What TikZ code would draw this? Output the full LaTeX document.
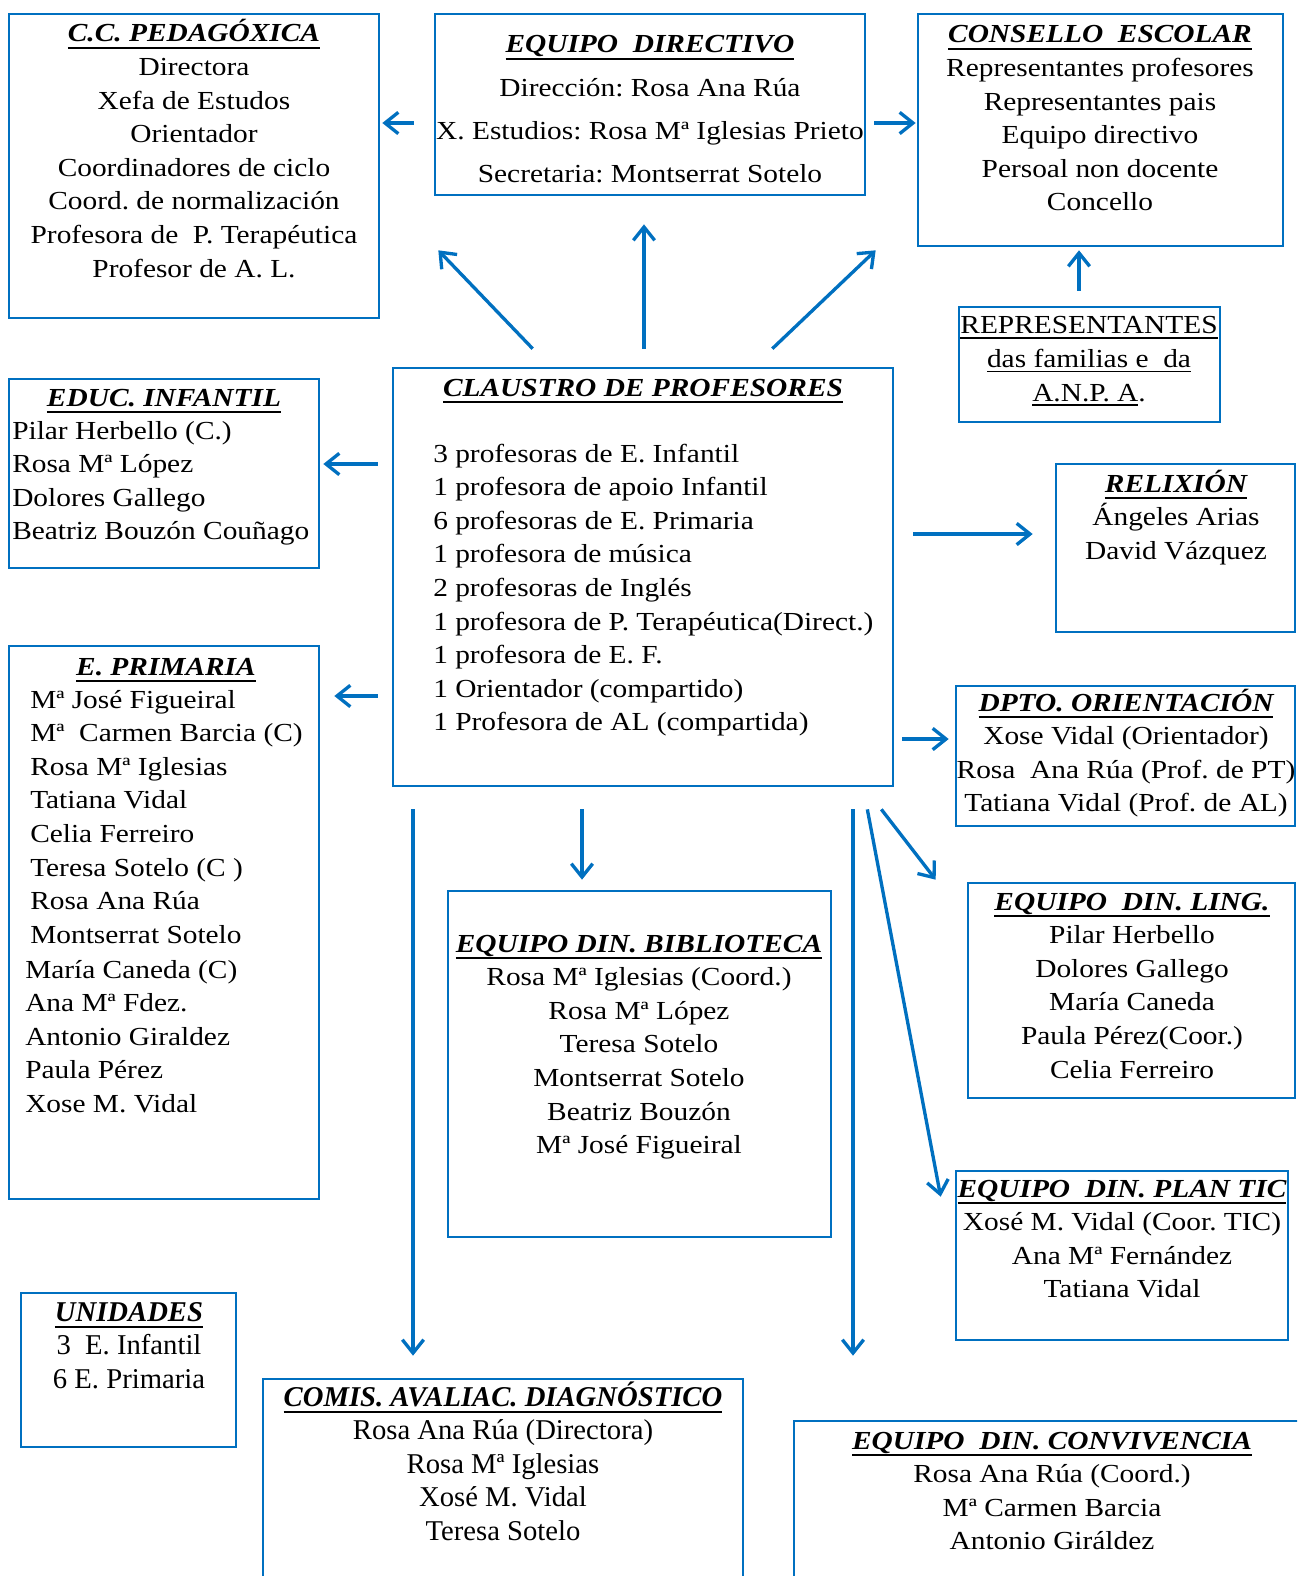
\documentclass[tikz,border=0pt]{standalone}
\usepackage{fontspec}
\setmainfont[FakeStretch=1.13]{Liberation Serif}
\newfontfamily\condfont{Liberation Serif}
\usetikzlibrary{arrows.meta,calc,fit}
\definecolor{boxblue}{RGB}{0,112,192}
\frenchspacing
\newcommand\ttl[1]{\setbox0=\hbox{\bfseries\itshape #1}\rlap{\vrule width\wd0 height -3.6pt depth 5.4pt}\box0}
\newcommand\ulthin[1]{\setbox0=\hbox{#1}\rlap{\vrule width\wd0 height -2.2pt depth 3.4pt}\box0}
\newcommand\ctab[1]{\begin{tabular}[t]{@{}c@{}}#1\end{tabular}}
\newcommand\ltab[1]{\begin{tabular}[t]{@{}l@{}}#1\end{tabular}}
\tikzset{
  box/.style={draw=boxblue, line width=2pt, inner sep=0pt, rectangle},
  arr/.style={draw=boxblue, line width=2.5pt, -{Straight Barb[length=10pt,width=16pt]}},
  txt/.style={inner sep=0pt, font=\frenchspacing\fontsize{19.5}{25.2}\selectfont},
  ctxt/.style={inner sep=0pt, font=\frenchspacing\condfont\fontsize{21.5}{25.2}\selectfont},
}
\begin{document}
\begin{tikzpicture}[x=0.75pt,y=-0.75pt]
\useasboundingbox (0,0) rectangle (1297,1576);
\fill[white] (0,0) rectangle (1297,1576);
\clip (0,0) rectangle (1297,1576);

% boxes
\node[box, fit={(9,14) (379,318)}] (ped) {};
\node[box, fit={(435,14) (865,195)}] (ed) {};
\node[box, fit={(918,14) (1283,246)}] (cons) {};
\node[box, fit={(959,307) (1220,422)}] (rep) {};
\node[box, fit={(393,368) (893,786)}] (cl) {};
\node[box, fit={(9,379) (319,568)}] (inf) {};
\node[box, fit={(1056,464) (1295,632)}] (rel) {};
\node[box, fit={(9,646) (319,1199)}] (pri) {};
\node[box, fit={(956,686) (1295,826)}] (dpto) {};
\node[box, fit={(448,891) (831,1237)}] (bib) {};
\node[box, fit={(968,883) (1295,1098)}] (ling) {};
\node[box, fit={(956,1171) (1288,1340)}] (tic) {};
\node[box, fit={(21,1293) (236,1447)}] (uni) {};
\node[box, fit={(263,1379) (743,1600)}] (com) {};
\node[box, fit={(794,1421) (1310,1600)}] (conv) {};

% texts
\node[txt, anchor=base] (tped) at (194,42) {\ctab{\ttl{C.C. PEDAGÓXICA}\\ Directora\\ Xefa de Estudos\\ Orientador\\ Coordinadores de ciclo\\ Coord. de normalización\\ Profesora de\ \ P. Terapéutica\\ Profesor de A. L.}};
\node[txt, anchor=base, font=\frenchspacing\fontsize{19.5}{32.5}\selectfont] (ted) at (650,53) {\ctab{\ttl{EQUIPO\ \ DIRECTIVO}\\ Dirección: Rosa Ana Rúa\\ X. Estudios: Rosa Mª Iglesias Prieto\\ Secretaria: Montserrat Sotelo}};
\node[txt, anchor=base] (tcons) at (1100,43) {\ctab{\ttl{CONSELLO\ \ ESCOLAR}\\ Representantes profesores\\ Representantes pais\\ Equipo directivo\\ Persoal non docente\\ Concello}};
\node[txt, anchor=base] (trep) at (1089,334) {\ctab{\ulthin{REPRESENTANTES}\\ \ulthin{das familias e\ \ da}\\ \ulthin{A.N.P. A}.}};
\node[txt, anchor=base] (tclh) at (643,396) {\ttl{CLAUSTRO DE PROFESORES}};
\node[txt, anchor=base west] (tcl) at (433,462) {\ltab{3 profesoras de E. Infantil\\ 1 profesora de apoio Infantil\\ 6 profesoras de E. Primaria\\ 1 profesora de música\\ 2 profesoras de Inglés\\ 1 profesora de P. Terapéutica(Direct.)\\ 1 profesora de E. F.\\ 1 Orientador (compartido)\\ 1 Profesora de AL (compartida)}};
\node[txt, anchor=base] (tinfh) at (164,406) {\ttl{EDUC. INFANTIL}};
\node[txt, anchor=base west] (tinf) at (12,439) {\ltab{Pilar Herbello (C.)\\ Rosa Mª López\\ Dolores Gallego\\ Beatriz Bouzón Couñago}};
\node[txt, anchor=base] (tprih) at (166,675) {\ttl{E. PRIMARIA}};
\node[txt, anchor=base west] (tpri1) at (30,708) {\ltab{Mª José Figueiral\\ Mª\ \ Carmen Barcia (C)\\ Rosa Mª Iglesias\\ Tatiana Vidal\\ Celia Ferreiro\\ Teresa Sotelo (C )\\ Rosa Ana Rúa\\ Montserrat Sotelo}};
\node[txt, anchor=base west] (tpri2) at (25,978) {\ltab{María Caneda (C)\\ Ana Mª Fdez.\\ Antonio Giraldez\\ Paula Pérez\\ Xose M. Vidal}};
\node[txt, anchor=base] (trel) at (1176,492) {\ctab{\ttl{RELIXIÓN}\\ Ángeles Arias\\ David Vázquez}};
\node[txt, anchor=base] (tdpto) at (1126,711) {\ctab{\ttl{DPTO. ORIENTACIÓN}\\ Xose Vidal (Orientador)\\ Rosa\ \ Ana Rúa (Prof. de PT)\\ Tatiana Vidal (Prof. de AL)}};
\node[txt, anchor=base] (tling) at (1132,910) {\ctab{\ttl{EQUIPO\ \ DIN. LING.}\\ Pilar Herbello\\ Dolores Gallego\\ María Caneda\\ Paula Pérez(Coor.)\\ Celia Ferreiro}};
\node[txt, anchor=base] (ttic) at (1122,1197) {\ctab{\ttl{EQUIPO\ \ DIN. PLAN TIC}\\ Xosé M. Vidal (Coor. TIC)\\ Ana Mª Fernández\\ Tatiana Vidal}};
\node[txt, anchor=base] (tbib) at (639,952) {\ctab{\ttl{EQUIPO DIN. BIBLIOTECA}\\ Rosa Mª Iglesias (Coord.)\\ Rosa Mª López\\ Teresa Sotelo\\ Montserrat Sotelo\\ Beatriz Bouzón\\ Mª José Figueiral}};
\node[ctxt, anchor=base] (tuni) at (129,1321) {\ctab{\ttl{UNIDADES}\\ 3\ \ E. Infantil\\ 6 E. Primaria}};
\node[ctxt, anchor=base] (tcom) at (503,1406) {\ctab{\ttl{COMIS. AVALIAC. DIAGNÓSTICO}\\ Rosa Ana Rúa (Directora)\\ Rosa Mª Iglesias\\ Xosé M. Vidal\\ Teresa Sotelo}};
\node[txt, anchor=base] (tconv) at (1052,1449) {\ctab{\ttl{EQUIPO\ \ DIN. CONVIVENCIA}\\ Rosa Ana Rúa (Coord.)\\ Mª Carmen Barcia\\ Antonio Giráldez}};

% connectors
\draw[arr] ($(ed.west|-0,123)+(-20,0)$) -- ($(ped.east|-0,123)+(2,0)$);
\draw[arr] ($(ed.east|-0,123)+(8,0)$) -- ($(cons.west|-0,123)+(-1,0)$);
\draw[arr] ($(cl.north west)+(141,-18)$) -- ($(ped.south east)+(58,-69)$);
\draw[arr] ($(cl.north-|644,0)+(0,-18)$) -- ($(ed.south-|644,0)+(0,28)$);
\draw[arr] ($(cl.north east)+(-122,-18)$) -- ($(cons.south west)+(-41,3)$);
\draw[arr] ($(rep.north-|1079,0)+(0,-15)$) -- ($(cons.south-|1079,0)+(0,3)$);
\draw[arr] ($(cl.west|-0,464)+(-14,0)$) -- ($(inf.east|-0,464)+(3,0)$);
\draw[arr] ($(cl.east|-0,534)+(19,0)$) -- ($(rel.west|-0,534)+(-22,0)$);
\draw[arr] ($(cl.west|-0,696)+(-14,0)$) -- ($(pri.east|-0,696)+(14,0)$);
\draw[arr] ($(cl.east|-0,739)+(8,0)$) -- ($(dpto.west|-0,739)+(-6,0)$);
\draw[arr] ($(cl.south-|582,0)+(0,22)$) -- ($(bib.north-|582,0)+(0,-10)$);
\draw[arr] ($(cl.south-|413,0)+(0,22)$) -- ($(com.north-|413,0)+(0,-22)$);
\draw[arr] ($(cl.south-|853,0)+(0,22)$) -- ($(conv.north-|853,0)+(0,-64)$);
\draw[arr] ($(cl.south east)+(-27,22)$) -- ($(tic.north west)+(-14,27)$);
\draw[arr] ($(cl.south east)+(-13,22)$) -- ($(ling.north west)+(-31,-2)$);
\end{tikzpicture}
\end{document}
